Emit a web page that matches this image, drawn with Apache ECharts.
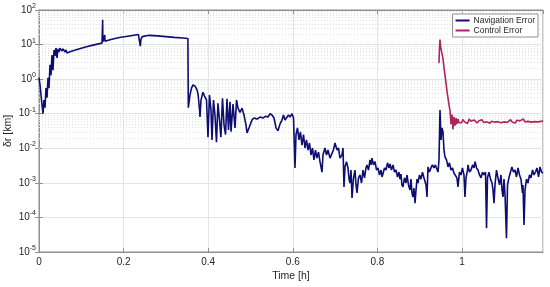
<!DOCTYPE html>
<html>
<head>
<meta charset="utf-8">
<script src="https://cdn.jsdelivr.net/npm/echarts@6/dist/echarts.min.js"></script>
<style>
  html, body { margin: 0; padding: 0; background: #fff; }
  #main { width: 550px; height: 287px; }
</style>
</head>
<body>
<div id="main"></div>
<script>
    // time in hours, error in km
    var navData = [
        [0, 1.1], [0.0024, 0.68], [0.0047, 0.35], [0.0071, 0.18], [0.0095, 0.1], [0.0118, 0.25],
        [0.0142, 0.15], [0.0165, 0.55], [0.0189, 0.29], [0.0213, 1.1], [0.0236, 0.55], [0.026, 2.6],
        [0.0284, 1.3], [0.0307, 5.0], [0.0331, 1.8], [0.0355, 7.0], [0.0378, 4.7], [0.0402, 7.9],
        [0.0426, 4.1], [0.0449, 7.5], [0.0473, 6.1], [0.0496, 7.9], [0.0544, 6.5], [0.0567, 7.5],
        [0.0615, 6.1], [0.0638, 7.0], [0.0662, 5.7], [0.0709, 6.5],
        [0.075, 6.3], [0.09, 7.2], [0.11, 8.5], [0.13, 9.8], [0.149, 11], [0.1505, 52], [0.151, 12],
        [0.153, 12.5], [0.1555, 19], [0.156, 12.5], [0.17, 14], [0.19, 16], [0.21, 17.5], [0.235, 19.5],
        [0.2385, 20], [0.2395, 9], [0.241, 14], [0.244, 17], [0.248, 19], [0.26, 18.5], [0.28, 17.8],
        [0.30, 17], [0.32, 16.2], [0.34, 15.5], [0.352, 15], [0.353, 0.15],
        [0.3546, 0.156], [0.357, 0.35], [0.3605, 0.55], [0.364, 0.68], [0.369, 0.63], [0.3735, 0.49],
        [0.376, 0.37], [0.3795, 0.13], [0.3806, 0.08], [0.383, 0.25], [0.3877, 0.42], [0.391, 0.33],
        [0.396, 0.25], [0.3995, 0.021], [0.403, 0.35], [0.4066, 0.128], [0.409, 0.0174], [0.4125, 0.25],
        [0.416, 0.092], [0.4196, 0.015], [0.423, 0.2], [0.4267, 0.066], [0.430, 0.021], [0.4338, 0.28],
        [0.4374, 0.047], [0.441, 0.025], [0.4444, 0.27], [0.448, 0.034], [0.4515, 0.22], [0.454, 0.03],
        [0.4586, 0.19], [0.4634, 0.039], [0.467, 0.25], [0.4704, 0.145], [0.4752, 0.11], [0.48, 0.145],
        [0.4846, 0.092], [0.4894, 0.047], [0.4917, 0.028], [0.4965, 0.039], [0.4988, 0.044], [0.5035, 0.066],
        [0.5083, 0.075], [0.5154, 0.07], [0.5225, 0.08], [0.5296, 0.075], [0.5366, 0.085], [0.5414, 0.08],
        [0.546, 0.1], [0.5508, 0.092], [0.5556, 0.075], [0.5603, 0.039], [0.565, 0.032], [0.5697, 0.05],
        [0.5745, 0.066], [0.578, 0.092], [0.5816, 0.066], [0.5863, 0.058], [0.5898, 0.092], [0.5934, 0.08],
        [0.598, 0.1], [0.6017, 0.075], [0.6052, 0.0027], [0.6076, 0.025], [0.611, 0.039], [0.6147, 0.0174],
        [0.618, 0.03], [0.6217, 0.0124], [0.6253, 0.025], [0.6288, 0.0102], [0.6324, 0.0174], [0.636, 0.0089],
        [0.6395, 0.0142], [0.643, 0.0064], [0.6466, 0.0102], [0.650, 0.0046], [0.6537, 0.0089], [0.657, 0.0052],
        [0.6608, 0.0078], [0.6643, 0.0041], [0.669, 0.00205], [0.6714, 0.0064], [0.676, 0.0102], [0.6797, 0.0064],
        [0.6832, 0.0089], [0.688, 0.0052], [0.6927, 0.0046], [0.696, 0.0089], [0.6998, 0.0142], [0.7045, 0.0089],
        [0.708, 0.0102], [0.7116, 0.0052], [0.7163, 0.0064], [0.7187, 0.0102], [0.721, 0.00076], [0.7234, 0.0029],
        [0.727, 0.0041], [0.7305, 0.0027], [0.733, 0.00128], [0.7352, 0.00099], [0.7376, 0.00235], [0.74, 0.000365],
        [0.7435, 0.0014], [0.747, 0.00235], [0.7494, 0.00087], [0.7518, 0.00051], [0.7553, 0.0014], [0.7589, 0.00169],
        [0.7624, 0.00099], [0.766, 0.00235], [0.7695, 0.0014], [0.773, 0.0027], [0.7754, 0.0033], [0.779, 0.00235],
        [0.7825, 0.0046], [0.785, 0.0033], [0.7872, 0.0052], [0.7908, 0.0033], [0.7943, 0.0041], [0.798, 0.00235],
        [0.8014, 0.0027], [0.805, 0.00169], [0.8085, 0.00235], [0.811, 0.00148], [0.8132, 0.00169], [0.8168, 0.0027],
        [0.8203, 0.00235], [0.824, 0.0038], [0.8274, 0.0027], [0.83, 0.0035], [0.8333, 0.00235], [0.837, 0.0033],
        [0.8404, 0.00205], [0.844, 0.00235], [0.8475, 0.00148], [0.851, 0.00205], [0.8534, 0.00128], [0.8558, 0.0018],
        [0.858, 0.00087], [0.8605, 0.00076], [0.864, 0.0014], [0.8676, 0.00099], [0.87, 0.00169], [0.8735, 0.00087],
        [0.877, 0.00062], [0.8794, 0.00128], [0.8818, 0.00051], [0.884, 0.00039], [0.8865, 0.0007], [0.889, 0.00026],
        [0.8913, 0.00062], [0.8936, 0.00128], [0.896, 0.00099], [0.8995, 0.00169], [0.903, 0.00128], [0.9066, 0.00205],
        [0.91, 0.0014], [0.9125, 0.00148], [0.915, 0.00087], [0.9173, 0.00039], [0.9196, 0.0029], [0.923, 0.00205],
        [0.9267, 0.0027], [0.930, 0.0033], [0.9338, 0.0027], [0.937, 0.0033], [0.941, 0.0029], [0.9433, 0.00205],
        [0.9456, 0.0046], [0.948, 0.128], [0.9504, 0.0174], [0.9527, 0.039], [0.955, 0.03], [0.9574, 0.0089],
        [0.9598, 0.0056], [0.9634, 0.0046], [0.967, 0.0029], [0.9704, 0.0038], [0.974, 0.00235], [0.9775, 0.0027],
        [0.981, 0.00193], [0.9846, 0.00205], [0.988, 0.0014], [0.9905, 0.00076], [0.994, 0.00205], [0.9976, 0.00169],
        [1.001, 0.0027], [1.0047, 0.00169], [1.007, 0.00039], [1.0095, 0.0014], [1.013, 0.00235], [1.0142, 0.0033],
        [1.0177, 0.00205], [1.0213, 0.00235], [1.025, 0.0033], [1.0284, 0.0027], [1.031, 0.0041], [1.0343, 0.0027],
        [1.0378, 0.00235], [1.0414, 0.00169], [1.045, 0.0014], [1.0485, 0.00205], [1.052, 0.00169], [1.0556, 0.00205],
        [1.058, 0.000049], [1.0603, 0.0014], [1.0638, 0.00205], [1.0674, 0.00128], [1.071, 0.00099], [1.0733, 0.00062],
        [1.0757, 0.00026], [1.078, 0.00087], [1.0816, 0.00235], [1.085, 0.0014], [1.0887, 0.00087], [1.0922, 0.00169],
        [1.0946, 0.00062], [1.097, 0.00039], [1.0993, 0.00128], [1.1017, 0.00045], [1.1052, 0.000025], [1.1076, 0.00087],
        [1.111, 0.0014], [1.1147, 0.00205], [1.118, 0.0029], [1.1217, 0.00205], [1.1253, 0.00235], [1.1288, 0.00148],
        [1.1324, 0.0027], [1.136, 0.00169], [1.1395, 0.00128], [1.143, 0.00051], [1.1442, 0.00087], [1.1466, 0.00006],
        [1.149, 0.00062], [1.1525, 0.00128], [1.156, 0.00099], [1.1596, 0.00169], [1.163, 0.0014], [1.1667, 0.00235],
        [1.170, 0.00169], [1.1738, 0.00205], [1.1773, 0.0027], [1.181, 0.00148], [1.1844, 0.0029], [1.188, 0.00205],
        [1.1915, 0.00193]
    ];

    var ctrlData = [
        [0.9456, 2.9], [0.9468, 8], [0.948, 14], [0.9492, 9], [0.9504, 10], [0.9527, 5.5], [0.955, 4.0],
        [0.9574, 2.2], [0.9598, 1.3], [0.962, 0.8], [0.9645, 0.45], [0.967, 0.28], [0.9693, 0.18],
        [0.9717, 0.12], [0.974, 0.05], [0.9764, 0.095], [0.9787, 0.035], [0.981, 0.08], [0.9835, 0.045],
        [0.986, 0.075], [0.988, 0.05], [0.9905, 0.07], [0.993, 0.055],
        [0.996, 0.062], [0.999, 0.055], [1.002, 0.068], [1.006, 0.058], [1.010, 0.064], [1.013, 0.052],
        [1.017, 0.07], [1.021, 0.06], [1.025, 0.057], [1.028, 0.066], [1.032, 0.061], [1.036, 0.054],
        [1.040, 0.063], [1.044, 0.059], [1.047, 0.067], [1.051, 0.056], [1.055, 0.062], [1.059, 0.058],
        [1.062, 0.065], [1.066, 0.053], [1.070, 0.061], [1.074, 0.06], [1.077, 0.057], [1.081, 0.064],
        [1.085, 0.059], [1.089, 0.066], [1.092, 0.055], [1.096, 0.062], [1.100, 0.058], [1.104, 0.063],
        [1.107, 0.056], [1.111, 0.061], [1.115, 0.067], [1.119, 0.057], [1.122, 0.06], [1.126, 0.054],
        [1.130, 0.065], [1.134, 0.059], [1.137, 0.062], [1.141, 0.056], [1.145, 0.07], [1.149, 0.058],
        [1.152, 0.063], [1.156, 0.06], [1.160, 0.066], [1.164, 0.057], [1.167, 0.061], [1.171, 0.059],
        [1.175, 0.064], [1.179, 0.058], [1.183, 0.062], [1.187, 0.06], [1.1915, 0.063]
    ];

    var xMax = 1.1915;
    var yDecades = [-5, -4, -3, -2, -1, 0, 1];
    var minorSteps = [2, 3, 4, 5, 6, 7, 8, 9];

    var FONT = 'Liberation Sans, Arial, Helvetica, sans-serif';
    var TEXT = '#262626';
    var AXIS = '#8f8f8f';
    var NAV = '#0d0d73';
    var CTRL = '#b0245c';

    // dotted minor grid at 2..9 x 10^k, like matlab's grid minor
    var minorLines = [];
    yDecades.forEach(function(d) {
        minorSteps.forEach(function(m) {
            minorLines.push({ yAxis: m * Math.pow(10, d) });
        });
    });

    function sup_label(v) {
        var e = Math.round(Math.log10(v));
        return '{b|10}{s|' + e + '}';
    }

    var logAxis = {
        type: 'log',
        logBase: 10,
        min: 1e-5,
        max: 100,
        splitNumber: 7,
        axisLine: { show: true, lineStyle: { color: AXIS, width: 1 } },
        axisTick: { show: true, inside: true, length: 4, lineStyle: { color: AXIS } }
    };

    var option = {
        animation: false,
        backgroundColor: '#fff',
        textStyle: { fontFamily: FONT },
        grid: {
            left: 39, right: 7, top: 10, bottom: 35,
            outerBoundsMode: 'none',
            containLabel: false,
            show: true, borderColor: AXIS, borderWidth: 1
        },
        legend: {
            data: [
                { name: 'Navigation Error', itemStyle: { color: NAV, borderWidth: 0 } },
                { name: 'Control Error', itemStyle: { color: CTRL, borderWidth: 0 } }
            ],
            z: 20,
            orient: 'vertical',
            right: 12,
            top: 14,
            padding: [2, 3, 2, 3],
            itemGap: 1,
            itemWidth: 14,
            itemHeight: 2,
            icon: 'rect',
            backgroundColor: '#fff',
            borderColor: '#8f8f8f',
            borderWidth: 1,
            borderRadius: 0,
            textStyle: { fontSize: 8.5, color: TEXT, fontFamily: FONT, padding: [0, 0, 0, -1] }
        },
        xAxis: [{
            type: 'value',
            min: 0,
            max: xMax,
            interval: 0.2,
            name: 'Time [h]',
            nameLocation: 'middle',
            nameGap: 19,
            nameMoveOverlap: false,
            nameTextStyle: { fontSize: 10.5, color: TEXT },
            axisLine: { show: true, lineStyle: { color: AXIS } },
            axisTick: { show: true, inside: true, length: 4, lineStyle: { color: AXIS } },
            axisLabel: { fontSize: 10, color: TEXT, margin: 5, showMaxLabel: false },
            splitLine: { show: true, lineStyle: { color: '#e4e4e4', width: 1 } }
        }, {
            type: 'value',
            position: 'top',
            min: 0,
            max: xMax,
            interval: 0.2,
            axisLine: { show: true, lineStyle: { color: AXIS } },
            axisTick: { show: true, inside: true, length: 4, lineStyle: { color: AXIS } },
            axisLabel: { show: false },
            splitLine: { show: false }
        }],
        yAxis: [Object.assign({}, logAxis, {
            name: 'δr [km]',
            nameLocation: 'middle',
            nameGap: 25,
            nameMoveOverlap: false,
            nameTextStyle: { fontSize: 10.5, color: TEXT },
            axisLabel: {
                formatter: sup_label,
                margin: 3,
                color: TEXT,
                rich: {
                    b: { fontSize: 10, color: TEXT, fontFamily: FONT },
                    s: { fontSize: 7, color: TEXT, fontFamily: FONT, padding: [0, 0, 8, 0] }
                }
            },
            splitLine: { show: true, lineStyle: { color: '#e4e4e4', width: 1 } }
        }), Object.assign({}, logAxis, {
            position: 'right',
            axisLabel: { show: false },
            splitLine: { show: false }
        })],
        series: [{
            name: 'grid',
            type: 'line',
            data: [],
            silent: true,
            z: 1,
            markLine: {
                silent: true,
                z: 1,
                symbol: 'none',
                label: { show: false },
                animation: false,
                lineStyle: { type: [1, 2], color: '#e0e0e0', width: 1 },
                data: minorLines
            }
        }, {
            name: 'Navigation Error',
            type: 'line',
            data: navData,
            symbol: 'none',
            sampling: false,
            z: 3,
            itemStyle: { color: NAV },
            lineStyle: { color: NAV, width: 1.6, type: 'solid' }
        }, {
            name: 'Control Error',
            type: 'line',
            data: ctrlData,
            symbol: 'none',
            z: 4,
            itemStyle: { color: CTRL },
            lineStyle: { color: CTRL, width: 1.6, type: 'solid' }
        }]
    };

    var chart = echarts.init(document.getElementById('main'), null, { renderer: 'canvas' });
    chart.setOption(option);
</script>
</body>
</html>
